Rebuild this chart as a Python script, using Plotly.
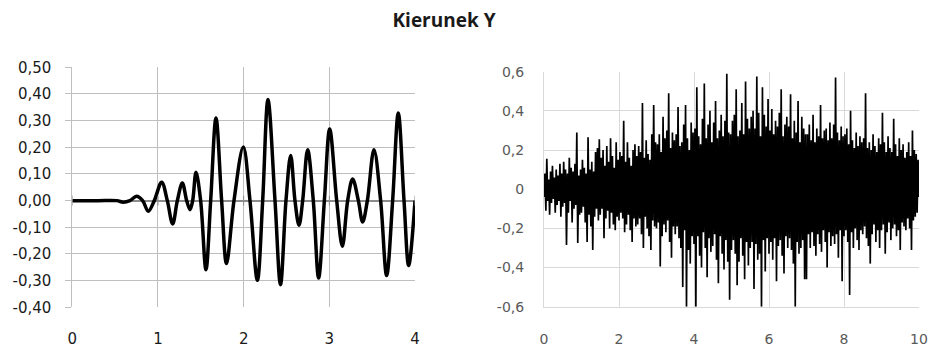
import plotly.graph_objects as go

# ---------------- data ----------------
title_text = "Kierunek Y"

# left panel: time [s] and value (read at extrema / zero crossings)
left_t = [0.0, 0.3, 0.52, 0.595, 0.673, 0.75, 0.821, 0.887, 0.957, 1.043, 1.109, 1.171, 1.226,
          1.284, 1.335, 1.374, 1.405, 1.444, 1.498, 1.56, 1.615, 1.677, 1.743, 1.80, 1.887,
          1.996, 2.074, 2.16, 2.222, 2.284, 2.366, 2.43, 2.494, 2.549, 2.599, 2.646, 2.689,
          2.747, 2.813, 2.875, 2.942, 3.004, 3.086, 3.152, 3.214, 3.272, 3.339, 3.389, 3.444,
          3.521, 3.599, 3.669, 3.739, 3.805, 3.872, 3.926, 4.0]
left_y = [0.0, 0.0, 0.0, -0.006, 0.0, 0.016, 0.0, -0.04, 0.0, 0.069, 0.0, -0.0875, 0.0,
          0.066, 0.0, -0.034, 0.0, 0.106, 0.0, -0.259, 0.0, 0.31, 0.0, -0.236, 0.0,
          0.201, 0.0, -0.299, 0.0, 0.379, 0.0, -0.315, 0.0, 0.169, 0.0, -0.0925, 0.0,
          0.191, 0.0, -0.29, 0.0, 0.269, 0.0, -0.171, 0.0, 0.081, 0.0, -0.08, 0.0,
          0.191, 0.0, -0.281, 0.0, 0.329, 0.0, -0.243, 0.0]

left_xticks = [0, 1, 2, 3, 4]
left_xlabels = ["0", "1", "2", "3", "4"]
left_yticks = [-0.4, -0.3, -0.2, -0.1, 0.0, 0.1, 0.2, 0.3, 0.4, 0.5]
left_ylabels = ["-0,40", "-0,30", "-0,20", "-0,10", "0,00", "0,10", "0,20", "0,30", "0,40", "0,50"]

right_dt = 0.025
right_y = [
    -0.04, 0.08, -0.11, 0.155, -0.06, 0.05, -0.13, 0.09, -0.07, 0.12, -0.05, 0.06, -0.12, 0.10, -0.08, 0.07, -0.06, 0.13, -0.14, 0.08,
    -0.09, 0.14, -0.07, 0.10, -0.285, 0.08, -0.12, 0.16, -0.06, 0.11, -0.17, 0.09, -0.10, 0.13, -0.08, 0.29, -0.275, 0.07, -0.13, 0.10,
    -0.12, 0.15, -0.09, 0.11, -0.17, 0.08, -0.27, 0.265, -0.13, 0.10, -0.19, 0.14, -0.31, 0.09, -0.14, 0.19, -0.10, 0.21, -0.16, 0.255,
    -0.13, 0.16, -0.10, 0.20, -0.25, 0.12, -0.15, 0.22, -0.11, 0.14, -0.20, 0.26, -0.12, 0.17, -0.18, 0.11, -0.21, 0.24, -0.14, 0.15,
    -0.16, 0.19, -0.12, 0.17, -0.15, 0.35, -0.22, 0.14, -0.18, 0.24, -0.13, 0.16, -0.21, 0.12, -0.27, 0.20, -0.15, 0.23, -0.19, 0.17,
    -0.18, 0.22, -0.15, 0.19, -0.23, 0.44, -0.30, 0.16, -0.14, 0.25, -0.20, 0.18, -0.24, 0.15, -0.31, 0.28, -0.16, 0.43, -0.19, 0.24,
    -0.20, 0.23, -0.17, 0.28, -0.395, 0.19, -0.24, 0.37, -0.18, 0.26, -0.22, 0.30, -0.16, 0.49, -0.27, 0.21, -0.35, 0.29, -0.19, 0.25,
    -0.23, 0.28, -0.19, 0.42, -0.25, 0.22, -0.30, 0.24, -0.50, 0.33, -0.21, 0.43, -0.60, 0.26, -0.31, 0.20, -0.38, 0.34, -0.24, 0.29,
    -0.28, 0.31, -0.60, 0.52, -0.24, 0.27, -0.34, 0.23, -0.40, 0.36, -0.22, 0.54, -0.30, 0.26, -0.45, 0.33, -0.25, 0.40, -0.32, 0.24,
    -0.29, 0.34, -0.23, 0.45, -0.36, 0.26, -0.48, 0.30, -0.24, 0.38, -0.33, 0.27, -0.41, 0.35, -0.26, 0.59, -0.37, 0.29, -0.565, 0.28,
    -0.31, 0.35, -0.26, 0.38, -0.33, 0.51, -0.49, 0.27, -0.37, 0.30, -0.25, 0.44, -0.34, 0.28, -0.46, 0.55, -0.27, 0.36, -0.39, 0.31,
    -0.30, 0.37, -0.27, 0.40, -0.51, 0.31, -0.28, 0.575, -0.36, 0.39, -0.33, 0.27, -0.60, 0.52, -0.26, 0.38, -0.42, 0.32, -0.25, 0.46,
    -0.33, 0.30, -0.27, 0.41, -0.36, 0.28, -0.25, 0.35, -0.47, 0.32, -0.29, 0.39, -0.26, 0.51, -0.34, 0.27, -0.43, 0.33, -0.24, 0.37,
    -0.30, 0.32, -0.25, 0.485, -0.31, 0.26, -0.38, 0.35, -0.60, 0.29, -0.27, 0.45, -0.33, 0.24, -0.30, 0.37, -0.26, 0.31, -0.46, 0.28,
    -0.46, 0.28, -0.23, 0.33, -0.30, 0.25, -0.22, 0.38, -0.29, 0.24, -0.34, 0.31, -0.23, 0.27, -0.28, 0.43, -0.32, 0.26, -0.21, 0.30,
    -0.27, 0.31, -0.40, 0.25, -0.22, 0.34, -0.29, 0.26, -0.24, 0.33, -0.28, 0.57, -0.23, 0.29, -0.35, 0.25, -0.21, 0.32, -0.47, 0.27,
    -0.24, 0.28, -0.21, 0.31, -0.27, 0.23, -0.54, 0.40, -0.22, 0.25, -0.30, 0.21, -0.20, 0.29, -0.26, 0.22, -0.31, 0.27, -0.21, 0.24,
    -0.23, 0.26, -0.19, 0.49, -0.25, 0.21, -0.29, 0.24, -0.38, 0.20, -0.23, 0.28, -0.18, 0.22, -0.27, 0.19, -0.21, 0.26, -0.30, 0.23,
    -0.21, 0.39, -0.18, 0.24, -0.33, 0.19, -0.22, 0.27, -0.17, 0.21, -0.26, 0.19, -0.20, 0.36, -0.18, 0.23, -0.24, 0.17, -0.21, 0.26,
    -0.31, 0.20, -0.17, 0.23, -0.19, 0.16, -0.21, 0.19, -0.15, 0.24, -0.20, 0.17, -0.31, 0.30, -0.16, 0.20, -0.14, 0.18, -0.12, 0.15,
    -0.04,
]
right_t = [i * right_dt for i in range(len(right_y))]

right_xticks = [0, 2, 4, 6, 8, 10]
right_xlabels = ["0", "2", "4", "6", "8", "10"]
right_yticks = [-0.6, -0.4, -0.2, 0.0, 0.2, 0.4, 0.6]
right_ylabels = ["-0,6", "-0,4", "-0,2", "0", "0,2", "0,4", "0,6"]

# ---------------- figure ----------------
W, H = 933, 349
fig = go.Figure()

fig.add_trace(go.Scatter(x=left_t, y=left_y, mode="lines",
                         line=dict(color="black", width=3.5, shape="spline", smoothing=1.0),
                         xaxis="x", yaxis="y", showlegend=False, hoverinfo="skip"))
# tick marks on the zero line of the left panel
fig.add_trace(go.Scatter(x=left_xticks, y=[0] * len(left_xticks), mode="markers",
                         marker=dict(symbol="line-ns-open", size=7, color="#8c8c8c",
                                     line=dict(color="#8c8c8c", width=1)),
                         xaxis="x", yaxis="y", showlegend=False, hoverinfo="skip"))

fig.add_trace(go.Scatter(x=right_t, y=right_y, mode="lines",
                         line=dict(color="black", width=1.7),
                         xaxis="x2", yaxis="y2", showlegend=False, hoverinfo="skip"))

font_l = dict(family="DejaVu Sans", size=15, color="#1a1a1a")
font_r = dict(family="DejaVu Sans", size=14, color="#595959")

def px_x(a, b):
    return [a / W, b / W]

def px_y(top, bottom):
    return [1 - bottom / H, 1 - top / H]

fig.update_layout(
    template="none",
    width=W, height=H,
    margin=dict(l=0, r=0, t=0, b=0, autoexpand=False),
    paper_bgcolor="white", plot_bgcolor="white",
    title=dict(text="<b>" + title_text + "</b>", x=444 / W, xanchor="center",
               y=1 - 20 / H, yanchor="middle",
               font=dict(family="Open Sans", size=19, color="#1a1a1a")),
    xaxis=dict(domain=px_x(72.3, 415), range=[0, 4], tickvals=left_xticks, ticktext=left_xlabels,
               showgrid=True, gridcolor="#bfbfbf", gridwidth=1, zeroline=False,
               showline=False, ticks="", tickfont=font_l, ticklabelstandoff=21,
               automargin=False, fixedrange=True),
    yaxis=dict(domain=px_y(67.3, 307.3), range=[-0.4, 0.5], tickvals=left_yticks,
               ticktext=left_ylabels, showgrid=True, gridcolor="#bfbfbf", gridwidth=1,
               zeroline=True, zerolinecolor="#8c8c8c", zerolinewidth=2,
               showline=True, linecolor="#bfbfbf", linewidth=1,
               ticks="outside", ticklen=6, tickcolor="#bfbfbf",
               tickfont=font_l, ticklabelstandoff=11, automargin=False, fixedrange=True),
    xaxis2=dict(domain=px_x(544, 919), range=[0, 10], tickvals=right_xticks,
                ticktext=right_xlabels, showgrid=True, gridcolor="#d9d9d9", gridwidth=1,
                zeroline=False, showline=True, linecolor="#d9d9d9", linewidth=1, ticks="",
                tickfont=font_r, ticklabelstandoff=19, anchor="y2", automargin=False,
                fixedrange=True),
    yaxis2=dict(domain=px_y(71.7, 306.7), range=[-0.6, 0.6], tickvals=right_yticks,
                ticktext=right_ylabels, showgrid=True, gridcolor="#d9d9d9", gridwidth=1,
                zeroline=False, showline=True, linecolor="#d9d9d9", linewidth=1, ticks="",
                tickfont=font_r, ticklabelstandoff=16, anchor="x2", automargin=False,
                fixedrange=True),
)

fig.write_html("out.html", config={"displayModeBar": False})
